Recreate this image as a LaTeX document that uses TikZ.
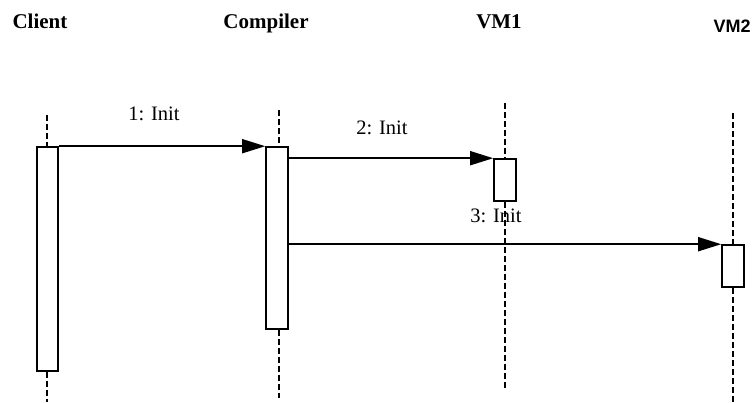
\documentclass[tikz,border=0pt]{standalone}
\usepackage{fontspec}
\usepackage{tikz}
\usetikzlibrary{arrows.meta,positioning,calc}
\newfontfamily\headserif{Liberation Serif}
\newfontfamily\headsans{Liberation Sans}

\begin{document}
\begin{tikzpicture}[
  x=1pt, y=-1pt,
  head/.style={font=\headserif\bfseries\fontsize{21}{24}\selectfont, anchor=base, inner sep=0pt},
  act/.style={draw, fill=white, line width=1.6pt, inner sep=0pt, minimum width=22pt},
  life/.style={line width=2.4pt, dash pattern=on 6pt off 3pt},
  msg/.style={-{Triangle[length=23pt, width=14pt]}, line width=1.6pt},
  mlab/.style={font=\headserif\fontsize{20.5}{23}\selectfont, anchor=base, inner sep=0pt},
]
\useasboundingbox (0,0) rectangle (753,402);

% ---- lifeline heads ----
\node[head] (client)   at (40,28)  {Client};
\node[head] (compiler) at (266,28) {Compiler};
\node[head] (vm1)      at (499,28) {VM1};
\node[head, font=\headsans\bfseries\fontsize{18}{21}\selectfont] (vm2) at (732,32) {VM2};

% ---- activation boxes ----
\node[act, minimum width=21pt, minimum height=224pt] (cbox) at (47.5,259) {};
\node[act, minimum height=182pt] (pbox) at (277,238) {};
\node[act, minimum height=42pt]  (v1box) at (505,180) {};
\node[act, minimum height=42pt]  (v2box) at (733,266) {};

% ---- lifelines ----
\coordinate (ctop) at (47,115);   \coordinate (cbot) at (47,402);
\coordinate (ptop) at (279,110);  \coordinate (pbot) at (279,398);
\coordinate (v1top) at (505,103); \coordinate (v1bot) at (505,390);
\coordinate (v2top) at (733,113); \coordinate (v2bot) at (733,402);
\draw[life] (ctop) -- (ctop |- cbox.north);   \draw[life] (cbot |- cbox.south) -- (cbot);
\draw[life] (ptop) -- (ptop |- pbox.north);   \draw[life] (pbot |- pbox.south) -- (pbot);
\draw[life] (v1top) -- (v1top |- v1box.north); \draw[life] (v1bot |- v1box.south) -- (v1bot);
\draw[life] (v2top) -- (v2top |- v2box.north); \draw[life] (v2bot |- v2box.south) -- (v2bot);

% ---- messages ----
\draw[msg] (cbox.north east) -- (pbox.north west);
\draw[msg] (pbox.east |- v1box.north) -- (v1box.north west);
\draw[msg] (pbox.east |- v2box.north) -- (v2box.north west);
\node[mlab] (m1) at (154,120) {1: Init};
\node[mlab] (m2) at (382,134) {2: Init};
\node[mlab] (m3) at (496,222) {3: Init};
\end{tikzpicture}
\end{document}
